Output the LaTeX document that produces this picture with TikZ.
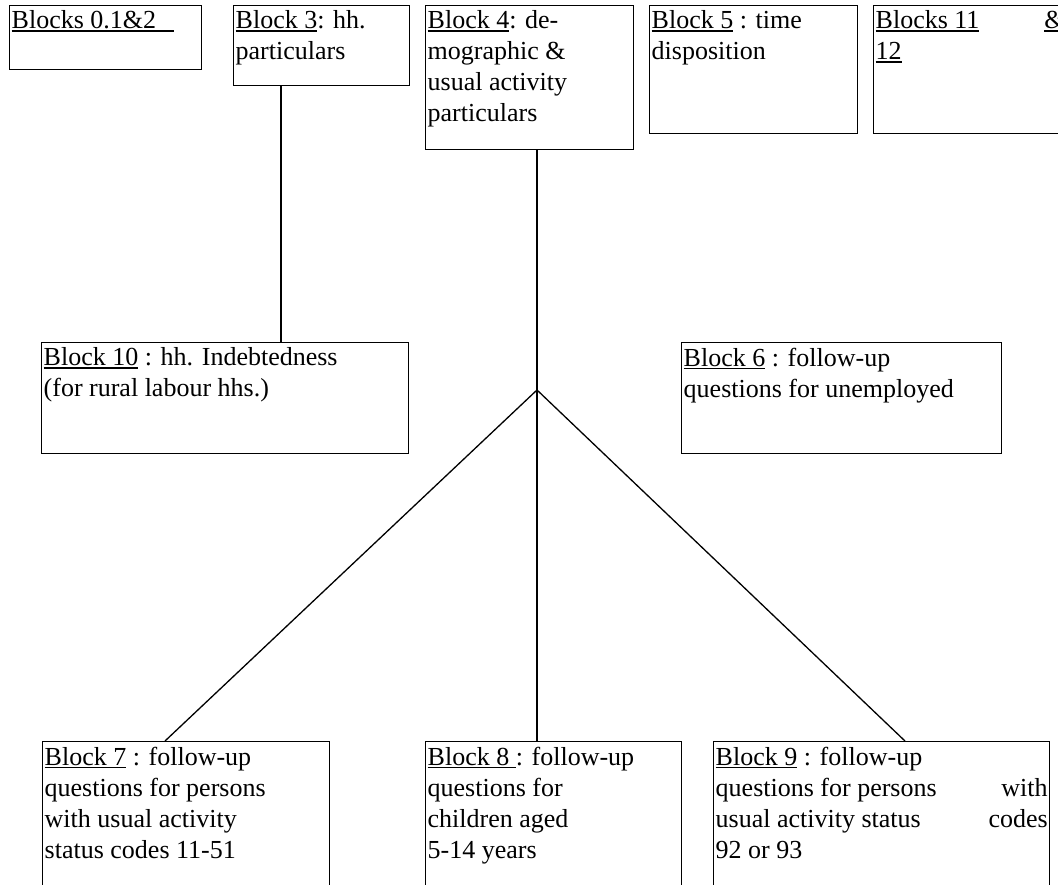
\documentclass[tikz,border=0pt]{standalone}
\usepackage{fontspec}
\setmainfont{Liberation Serif}
\newcommand{\blkname}[1]{\leavevmode\setbox0=\hbox{#1}\rlap{\rule[-3pt]{\wd0}{1.3pt}}\box0\relax}
\newcommand{\blkbody}[3]{\parbox[t][#2][t]{#1}{\raggedright #3}}
\begin{document}
\begin{tikzpicture}[x=1pt,y=-1pt,
    blk/.style={draw,line width=1.4pt,inner xsep=2pt,inner ysep=5pt,anchor=north west,
                font=\fontsize{26}{31}\selectfont},
    ln/.style={line width=1.3pt}]
  \useasboundingbox (0,0) rectangle (1058,884);
  \clip (0,0) rectangle (1058,884);
  % top row
  \node[blk] (b012) at (9,5)   {\blkbody{188pt}{54pt}{\blkname{Blocks 0.1\&2\hspace{18pt}}}};
  \node[blk] (b3)   at (233,5) {\blkbody{172pt}{70pt}{\blkname{Block 3}: hh.\\ particulars}};
  \node[blk] (b4)   at (425,5) {\blkbody{204pt}{134pt}{\blkname{Block 4}: de-\\ mographic \&\\ usual activity\\ particulars}};
  \node[blk] (b5)   at (649,5) {\blkbody{204pt}{118pt}{\blkname{Block 5} : time\\ disposition}};
  \node[blk] (b11)  at (873,5) {\blkbody{189pt}{118pt}{\blkname{Blocks 11}\hfill\blkname{\&}\\ \blkname{12}}};
  % middle row
  \node[blk] (b10)  at (41,342)  {\blkbody{363pt}{101pt}{\blkname{Block 10} : hh. Indebtedness\\ (for rural labour hhs.)}};
  \node[blk] (b6)   at (681,342) {\blkbody{316pt}{101pt}{\blkname{Block 6} : follow-up\\ questions for unemployed}};
  % bottom row
  \node[blk] (b7)   at (42,741)  {\blkbody{283pt}{170pt}{\blkname{Block 7} : follow-up\\ questions for persons\\ with usual activity\\ status codes 11-51}};
  \node[blk] (b8)   at (425,741) {\blkbody{252pt}{170pt}{\blkname{Block 8\ }: follow-up\\ questions for\\ children aged\\ 5-14 years}};
  \node[blk] (b9)   at (713,741) {\blkbody{332pt}{170pt}{\blkname{Block 9} : follow-up\\ questions for persons\hfill with\\ usual activity status\hfill codes\\ 92 or 93}};
  % links
  \draw[ln] ([xshift=48pt]b3.south west) -- ([xshift=48pt]b3.south west |- b10.north);
  \coordinate (hub) at (537,390);
  \draw[ln] (b4.south -| hub) -- (hub |- b8.north);
  \draw[ln] (hub) -- ([xshift=123pt]b7.north west);
  \draw[ln] (hub) -- ([xshift=192pt]b9.north west);
\end{tikzpicture}
\end{document}
